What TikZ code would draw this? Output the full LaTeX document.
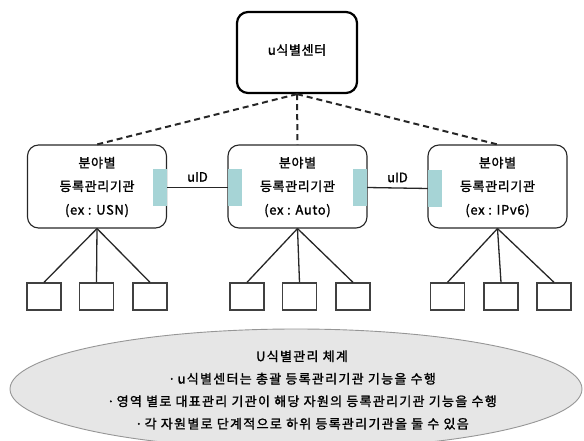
\documentclass[tikz,border=0pt]{standalone}
\usepackage{fontspec}
\setmainfont[FakeBold=1.5,AutoFakeBold=1.5]{Noto Sans CJK KR}
\newfontfamily\krwide[LetterSpace=10,FakeBold=1.5]{Noto Sans CJK KR}
\newfontfamily\krmid[LetterSpace=5,FakeBold=1.5]{Noto Sans CJK KR}
\usetikzlibrary{shapes.geometric}
\definecolor{tealbar}{RGB}{166,212,214}
\definecolor{ellfill}{RGB}{230,230,230}
\definecolor{ellline}{RGB}{150,150,150}
\tikzset{
  topbox/.style={draw=black,line width=2.2pt,rounded corners=11pt,minimum width=120pt,minimum height=81pt,inner sep=0pt},
  midbox/.style={draw=black!85,line width=1.1pt,rounded corners=11pt,minimum width=139pt,minimum height=83pt,inner sep=0pt},
  bar/.style={fill=tealbar,draw=none,minimum width=14pt,minimum height=36pt,inner sep=0pt},
  leaf/.style={draw=black!75,line width=1.3pt,minimum width=34pt,minimum height=27pt,inner sep=0pt},
  tree/.style={draw=black!85,line width=1.3pt},
  link/.style={draw=black!85,line width=1.3pt},
  dashlink/.style={draw=black!85,line width=2pt,dash pattern=on 6pt off 4pt},
  txt/.style={font=\krmid\fontsize{13}{23.5}\selectfont,align=center,inner sep=0pt},
}
\begin{document}
\begin{tikzpicture}[x=1pt,y=-1pt]
\useasboundingbox (0,0) rectangle (584,441);
\clip (0,0) rectangle (584,441);
% ellipse
\node[ellipse,fill=ellfill,draw=ellline,line width=0.9pt,minimum width=572pt,minimum height=120pt,inner sep=0pt] (ell) at (296,389) {};
\node[txt,font=\krwide\fontsize{13}{22.5}\selectfont] (elltxt) at (302,390) {U식별관리 체계\\
·\,u식별센터는 총괄 등록관리기관 기능을 수행\\
·\,영역 별로 대표관리 기관이 해당 자원의 등록관리기관 기능을 수행\\
·\,각 자원별로 단계적으로 하위 등록관리기관을 둘 수 있음};
% top
\node[topbox] (top) at (297,52.5) {};
\node[txt] (toptxt) at (297,50) {u식별센터};
% middle boxes
\node[midbox] (lbox) at (97,186.5) {};
\node[midbox] (cbox) at (297.5,186.5) {};
\node[midbox] (rbox) at (497.5,186.5) {};
\node[txt] (ltxt) at (97,187) {분야별\\등록관리기관\\(ex : USN)};
\node[txt] (ctxt) at (297.5,187) {분야별\\등록관리기관\\(ex : Auto)};
\node[txt] (rtxt) at (497.5,187) {분야별\\등록관리기관\\(ex : IPv6)};
% bars
\node[bar] (lb1) at (160,187.5) {};
\node[bar] (cb1) at (235,187.5) {};
\node[bar] (cb2) at (360,187.5) {};
\node[bar] (rb1) at (435,188.5) {};
% uID links
\draw[link] (lb1.east) -- (cb1.west) node[midway,above=5pt,font=\fontsize{13}{14}\selectfont,inner sep=0pt] (uid1) {uID};
\draw[link] (cb2.east) -- (rb1.west) node[midway,above=5pt,font=\fontsize{13}{14}\selectfont,inner sep=0pt] (uid2) {uID};
% dashed
\draw[dashlink] (top.south) -- (lbox.north);
\draw[dashlink] (top.south) -- (cbox.north);
\draw[dashlink] (top.south) -- (rbox.north);
% leaves
\node[leaf] (l1) at (44,296.5) {};
\node[leaf] (l2) at (96.5,296.5) {};
\node[leaf] (l3) at (150,296.5) {};
\node[leaf] (c1) at (247,296.5) {};
\node[leaf] (c2) at (299.5,296.5) {};
\node[leaf] (c3) at (353,296.5) {};
\node[leaf] (r1) at (447.5,296.5) {};
\node[leaf] (r2) at (501,296.5) {};
\node[leaf] (r3) at (554,296.5) {};
\foreach \p/\a/\b/\c in {lbox/l1/l2/l3,cbox/c1/c2/c3,rbox/r1/r2/r3}{
  \draw[tree] (\p.south) -- (\a.north);
  \draw[tree] (\p.south) -- (\b.north);
  \draw[tree] (\p.south) -- (\c.north);
}
\end{tikzpicture}
\end{document}
